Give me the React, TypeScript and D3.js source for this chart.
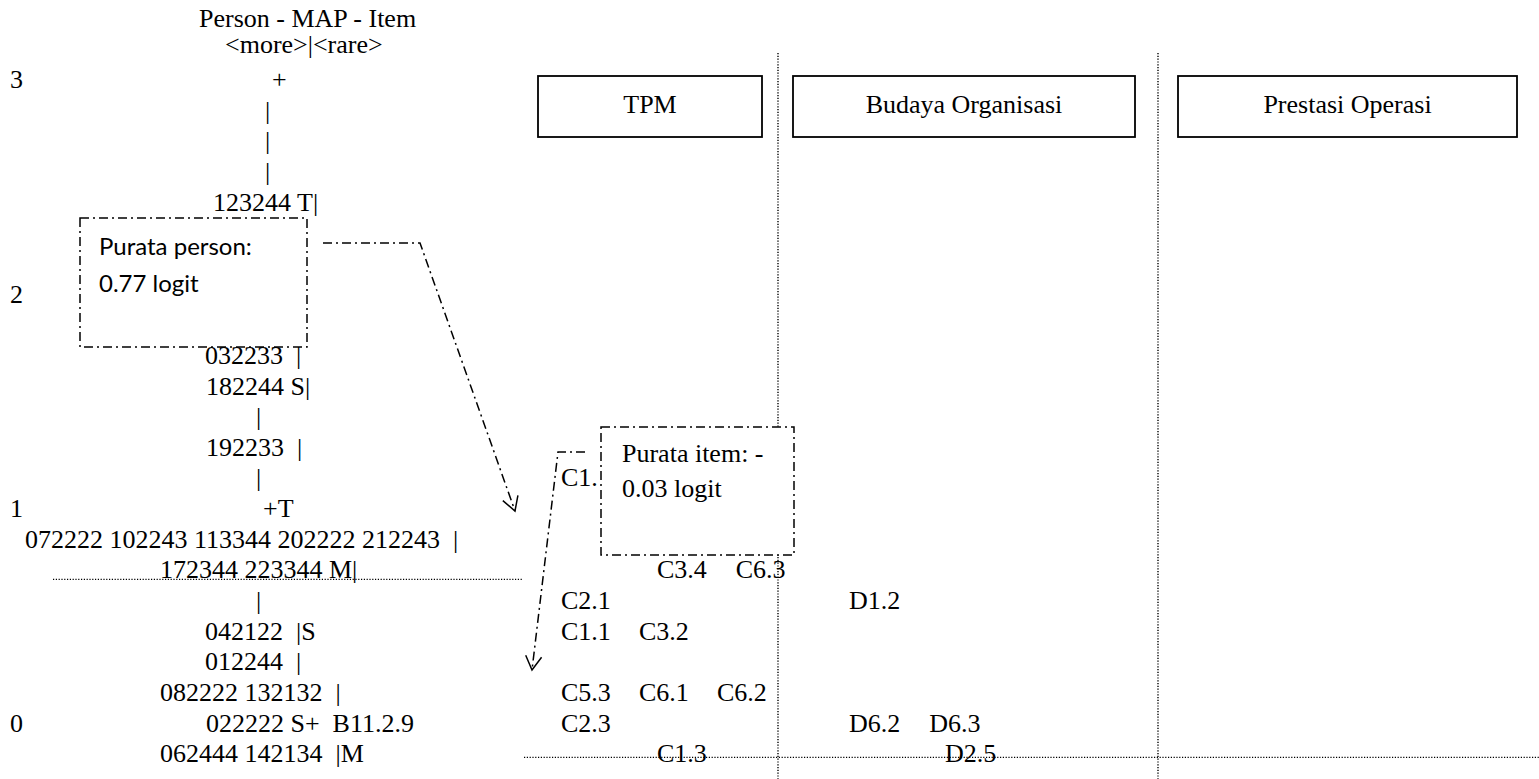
import React from "react";
import * as d3 from "d3";

// logit labels on the far left
const logitTicks = [3, 2, 1, 0];

// person side of the Wright map, one entry per map row (row 0 = logit 3, 7 rows per logit)
const personRows: { row: number; text: string }[] = [
  { row: 0, text: "+" },
  { row: 1, text: "|" },
  { row: 2, text: "|" },
  { row: 3, text: "|" },
  { row: 4, text: "123244 T|" },
  { row: 9, text: "032233  |" },
  { row: 10, text: "182244 S|" },
  { row: 11, text: "|" },
  { row: 12, text: "192233  |" },
  { row: 13, text: "|" },
  { row: 14, text: "+T" },
  { row: 15, text: "072222 102243 113344 202222 212243  |" },
  { row: 16, text: "172344 223344 M|" },
  { row: 17, text: "|" },
  { row: 18, text: "042122  |S" },
  { row: 19, text: "012244  |" },
  { row: 20, text: "082222 132132  |" },
  { row: 21, text: "022222 S+  B11.2.9" },
  { row: 22, text: "062444 142134  |M" }
];

// constructs (item groups)
const constructs = ["TPM", "Budaya Organisasi", "Prestasi Operasi"];

// item side: label, map row, construct index, column slot inside construct
const items: { label: string; row: number; group: number; slot: number }[] = [
  { label: "C1.", row: 13, group: 0, slot: 0 },
  { label: "C3.4", row: 16, group: 0, slot: 1.23 },
  { label: "C6.3", row: 16, group: 0, slot: 2.24 },
  { label: "C2.1", row: 17, group: 0, slot: 0 },
  { label: "D1.2", row: 17, group: 1, slot: 0 },
  { label: "C1.1", row: 18, group: 0, slot: 0 },
  { label: "C3.2", row: 18, group: 0, slot: 1 },
  { label: "C5.3", row: 20, group: 0, slot: 0 },
  { label: "C6.1", row: 20, group: 0, slot: 1 },
  { label: "C6.2", row: 20, group: 0, slot: 2 },
  { label: "C2.3", row: 21, group: 0, slot: 0 },
  { label: "D6.2", row: 21, group: 1, slot: 0 },
  { label: "D6.3", row: 21, group: 1, slot: 1.03 },
  { label: "C1.3", row: 22, group: 0, slot: 1.23 },
  { label: "D2.5", row: 22, group: 1, slot: 1.23 }
];

// mean guide lines (logit)
const personMeanLine = 0.71;
const itemMeanLine = -0.12;

const personNote = ["Purata person:", "0.77 logit"];
const itemNote = ["Purata item: -", "0.03 logit"];

export default function App() {
  const W = 1539;
  const H = 779;
  const serif = "Liberation Serif";
  const fs = 26;

  const y = d3.scaleLinear().domain([3, 0]).range([88, 731.7]);
  const rowY = (r: number) => y(3 - r / 7);

  // layout of the person column (left edge of each row's text)
  const rowIndent: Record<number, number> = {
    0: 272, 1: 265, 2: 265, 3: 265, 4: 213, 9: 205, 10: 206, 11: 256, 12: 206,
    13: 256, 14: 263, 15: 25, 16: 160, 17: 256, 18: 205, 19: 205, 20: 160, 21: 206, 22: 160
  };

  const groupStart = [561, 849];
  const slotX = d3.scaleLinear().domain([0, 1]).range([0, 78]);

  const headerBoxes = [
    [538, 762],
    [793, 1135],
    [1178, 1517]
  ];
  const dividers = [778, 1158];

  const dotted = "1.2,1.6";
  const dashDot = "9,4,2,4";

  const arrowHead = (x0: number, y0: number, x1: number, y1: number) => {
    const a = Math.atan2(y1 - y0, x1 - x0);
    const len = 16;
    const sp = Math.PI / 6;
    const p1 = [x1 - len * Math.cos(a - sp), y1 - len * Math.sin(a - sp)];
    const p2 = [x1 - len * Math.cos(a + sp), y1 - len * Math.sin(a + sp)];
    return `M${p1[0]},${p1[1]}L${x1},${y1}L${p2[0]},${p2[1]}`;
  };

  const line = d3.line();
  const txt = { fontFamily: serif, fontSize: fs, whiteSpace: "pre" as const };

  return (
    <svg width={W} height={H} style={{ position: "absolute", left: 0, top: 0, background: "#fff" }}>
      {/* title */}
      <text x={199} y={27} style={txt}>Person - MAP - Item</text>
      <text x={225} y={53} style={txt}>&lt;more&gt;|&lt;rare&gt;</text>

      {/* logit labels */}
      {logitTicks.map((t) => (
        <text key={t} x={10} y={y(t)} style={txt}>{t}</text>
      ))}

      {/* person rows */}
      {personRows.map((d) => (
        <text key={d.row} x={rowIndent[d.row]} y={rowY(d.row)} style={txt}>
          {d.text}
        </text>
      ))}

      {/* item labels */}
      {items.map((d, i) => (
        <text key={i} x={groupStart[d.group] + slotX(d.slot)} y={rowY(d.row)} style={txt}>
          {d.label}
        </text>
      ))}

      {/* dotted guide lines */}
      <line x1={53} x2={522} y1={y(personMeanLine)} y2={y(personMeanLine)} stroke="#000" strokeWidth={1.2} strokeDasharray={dotted} />
      <line x1={524} x2={W} y1={y(itemMeanLine)} y2={y(itemMeanLine)} stroke="#000" strokeWidth={1.2} strokeDasharray={dotted} />
      {dividers.map((x) => (
        <line key={x} x1={x} x2={x} y1={53} y2={H} stroke="#000" strokeWidth={1.4} strokeDasharray={dotted} />
      ))}

      {/* construct headers */}
      {constructs.map((c, i) => (
        <g key={c}>
          <rect x={headerBoxes[i][0]} y={76} width={headerBoxes[i][1] - headerBoxes[i][0]} height={61} fill="#fff" stroke="#000" strokeWidth={1.8} />
          <text x={(headerBoxes[i][0] + headerBoxes[i][1]) / 2} y={113} textAnchor="middle" style={txt}>{c}</text>
        </g>
      ))}

      {/* person mean note */}
      <rect x={80} y={218} width={227} height={129} fill="#fff" stroke="#000" strokeWidth={1.5} strokeDasharray={dashDot} />
      <text x={99} y={255} style={{ fontFamily: "Lato", fontSize: 24 }}>{personNote[0]}</text>
      <text x={99} y={292} style={{ fontFamily: "Lato", fontSize: 24 }}>{personNote[1]}</text>
      <path d={line([[323, 243], [420, 243], [515, 511]]) || ""} fill="none" stroke="#000" strokeWidth={1.5} strokeDasharray={dashDot} />
      <path d={arrowHead(420, 243, 515, 511)} fill="none" stroke="#000" strokeWidth={1.5} />

      {/* item mean note */}
      <rect x={601} y={427} width={193} height={128} fill="#fff" stroke="#000" strokeWidth={1.5} strokeDasharray={dashDot} />
      <text x={622} y={462} style={txt}>{itemNote[0]}</text>
      <text x={622} y={497} style={txt}>{itemNote[1]}</text>
      <path d={line([[585, 452], [558, 452], [532, 670]]) || ""} fill="none" stroke="#000" strokeWidth={1.5} strokeDasharray={dashDot} />
      <path d={arrowHead(558, 452, 532, 670)} fill="none" stroke="#000" strokeWidth={1.5} />
    </svg>
  );
}
